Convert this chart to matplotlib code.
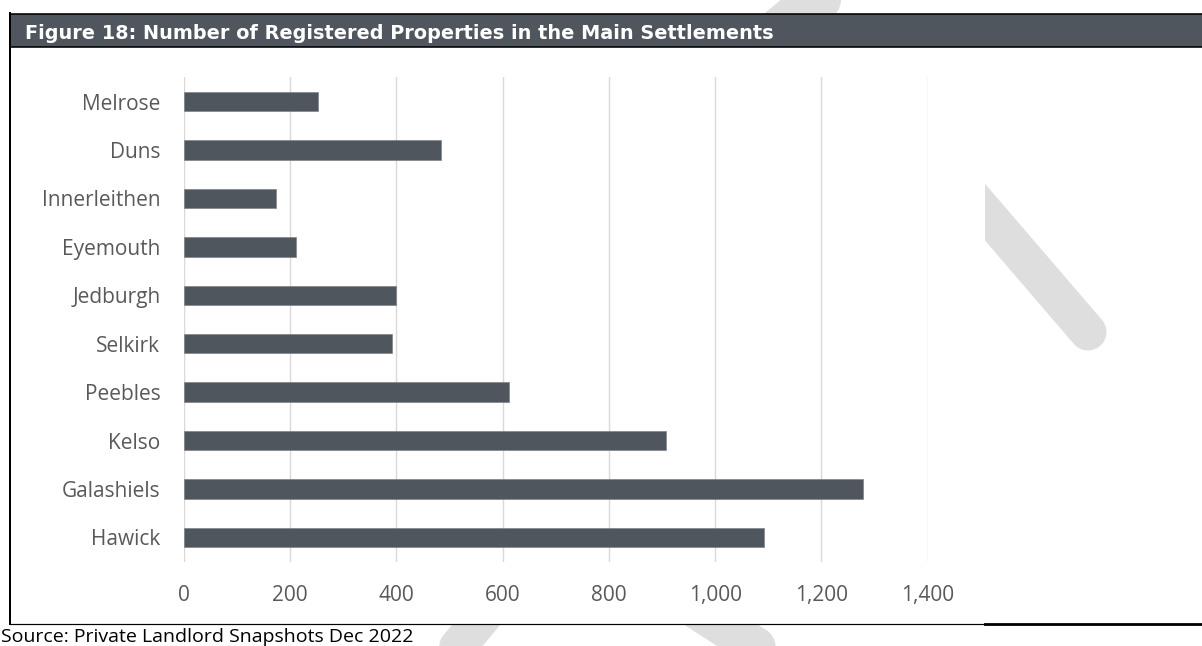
import matplotlib
matplotlib.use('Agg')
import matplotlib.pyplot as plt
from matplotlib.patches import Rectangle

# Registered properties per settlement, listed top to bottom
settlements = ['Melrose', 'Duns', 'Innerleithen', 'Eyemouth', 'Jedburgh',
               'Selkirk', 'Peebles', 'Kelso', 'Galashiels', 'Hawick']
properties = [253, 483, 173, 210, 400, 392, 612, 907, 1278, 1091]
x_ticks = [0, 200, 400, 600, 800, 1000, 1200, 1400]

title = 'Figure 18: Number of Registered Properties in the Main Settlements'
source = 'Source: Private Landlord Snapshots Dec 2022'

W, H = 1202, 646
dark = '#4f565d'
label_grey = '#595959'
px = 0.72  # points per pixel at 100 dpi

plt.rcParams['font.family'] = ['Open Sans', 'DejaVu Sans']

fig = plt.figure(figsize=(W / 100, H / 100), dpi=100)

# page layer in pixel units, y pointing down
bg = fig.add_axes([0, 0, 1, 1])
bg.set_xlim(0, W)
bg.set_ylim(H, 0)
bg.axis('off')
bg.set_zorder(-1)

# faint watermark strokes behind the figure box
strokes = [((778, 32), (834, -14), 46),
           ((880, 90), (1088, 332), 37),
           ((491, 607), (446, 661), 37),
           ((698, 610), (765, 653), 40)]
for (x0, y0), (x1, y1), w in strokes:
    bg.plot([x0, x1], [y0, y1], color='#dedede', lw=w * px,
            solid_capstyle='round', zorder=1)

# white chart panel
bg.add_patch(Rectangle((10, 47), 975, 577, facecolor='white', edgecolor='none', zorder=2))

# header bar
bg.add_patch(Rectangle((10, 13.5), W, 33, facecolor=dark, edgecolor='none', zorder=3))
bg.plot([10, W], [13.5, 13.5], color='black', lw=1.6 * px, zorder=4)
bg.plot([10, W], [46.7, 46.7], color='black', lw=1.6 * px, zorder=4)
bg.text(25, 39.2, title, color='white', family='DejaVu Sans', fontweight='bold',
        fontsize=13.9, va='baseline', ha='left', zorder=5)

# box borders
bg.plot([9.8, 9.8], [13, 624], color='black', lw=2 * px, zorder=4)
bg.plot([10, 985], [624, 624], color='black', lw=1.2 * px, zorder=4)
bg.plot([985, W], [624, 624], color='black', lw=2.8 * px, zorder=4)

bg.text(1, 642, source, color='black', fontsize=14, va='baseline', ha='left', zorder=5)

# bar chart
left, right = 184, 927.7
top, bottom = 77.3, 561.7
ax = fig.add_axes([left / W, 1 - bottom / H, (right - left) / W, (bottom - top) / H])
ax.patch.set_alpha(0)

pos = range(len(settlements))
ax.barh(pos, properties, height=0.4, color=dark, edgecolor='#7d848a', linewidth=0.5, zorder=3)

ax.set_xlim(0, 1400)
ax.set_ylim(len(settlements) - 0.5, -0.5)
ax.set_xticks(x_ticks)
ax.set_xticklabels([f'{v:,}' for v in x_ticks])
ax.set_yticks(list(pos))
ax.set_yticklabels(settlements)

ax.xaxis.grid(True, color='#d9d9d9', lw=1.4 * px, zorder=0)
ax.set_axisbelow(True)
for s in ax.spines.values():
    s.set_visible(False)
ax.tick_params(axis='both', length=0, labelsize=15, labelcolor=label_grey)
ax.tick_params(axis='y', pad=17)
ax.tick_params(axis='x', pad=16.5)

fig.savefig('out.png', dpi=100)
